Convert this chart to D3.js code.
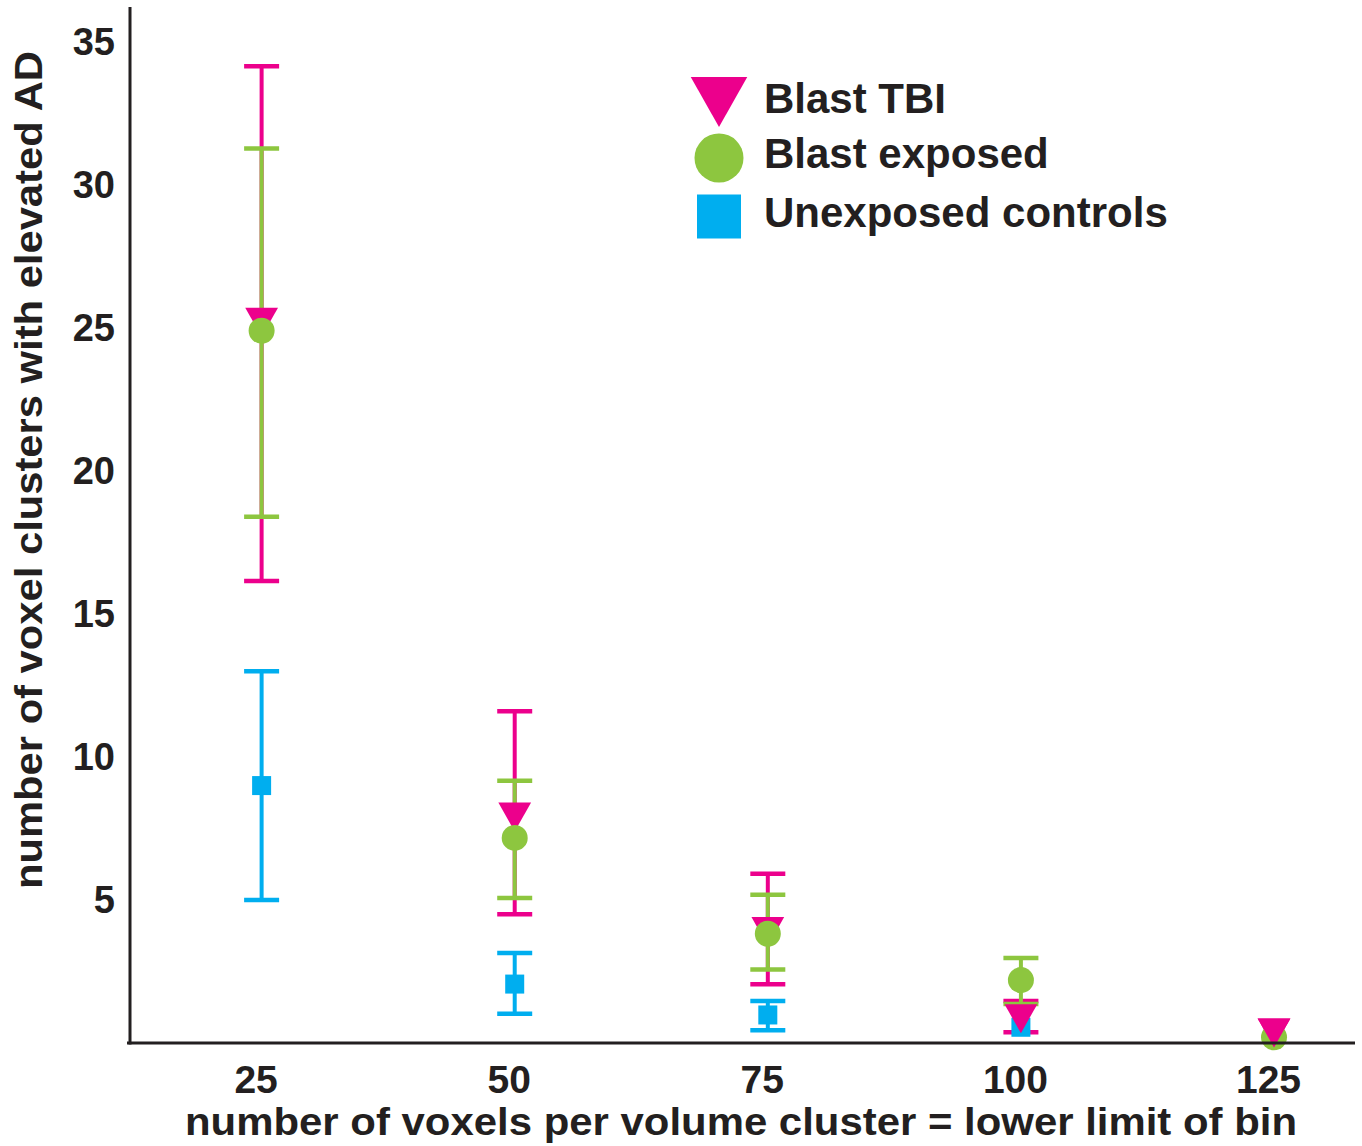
<!DOCTYPE html>
<html>
<head>
<meta charset="utf-8">
<script src="https://cdn.jsdelivr.net/npm/d3@7"></script>
<style>
  body { margin: 0; background: #fff; }
  text { font-family: "Liberation Sans", Arial, sans-serif; font-weight: bold; fill: #231f20; }
</style>
</head>
<body>
<script>
// bins on the x axis (lower limit of bin)
var bins = [25, 50, 75, 100, 125];

// Blast TBI
var tbiMean = [25.2, 7.9, 3.9, 0.85, 0.35];
var tbiLow  = [16.15, 4.5, 2.05, 0.38, null];
var tbiHigh = [34.15, 11.6, 5.92, 1.47, null];

// Blast exposed
var expMean = [24.9, 7.17, 3.82, 2.2, 0.2];
var expLow  = [18.4, 5.07, 2.57, 1.36, null];
var expHigh = [31.27, 9.17, 5.18, 2.97, null];

// Unexposed controls
var ctlMean = [9.0, 2.06, 0.98, 0.55, null];
var ctlLow  = [5.0, 1.02, 0.45, null, null];
var ctlHigh = [13.0, 3.15, 1.47, null, null];

var yTicks = [5, 10, 15, 20, 25, 30, 35];

var w = 1362;
var h = 1146;

var svg = d3.select("body")
    .append("svg")
    .attr("width", w)
    .attr("height", h);

// scales
var xScale = d3.scaleLinear()
    .domain([12, 133])
    .range([130, 1355]);

var yScale = d3.scaleLinear()
    .domain([0, 36.22])
    .range([1043, 7]);

// series setup
var series = [
  {name: "Unexposed controls", color: "#00aeef", shape: "square", mean: ctlMean, low: ctlLow, high: ctlHigh},
  {name: "Blast TBI", color: "#ec008c", shape: "triangle", mean: tbiMean, low: tbiLow, high: tbiHigh},
  {name: "Blast exposed", color: "#8dc63f", shape: "circle", mean: expMean, low: expLow, high: expHigh}
];

function rows(s) {
  return bins.map(function(b, i) {
    return {x: b, m: s.mean[i], lo: s.low[i], hi: s.high[i]};
  });
}

// marker drawing helper
function marker(g, shape, cx, cy, size, color) {
  if (shape == "circle") {
    g.append("circle").attr("cx", cx).attr("cy", cy).attr("r", size / 2).attr("fill", color);
  } else if (shape == "square") {
    g.append("rect").attr("x", cx - size / 2).attr("y", cy - size / 2)
      .attr("width", size).attr("height", size).attr("fill", color);
  } else {
    var tw = size * 1.13, th = size;
    g.append("path")
      .attr("d", "M" + (cx - tw / 2) + "," + (cy - th / 2) + "L" + (cx + tw / 2) + "," + (cy - th / 2) +
                 "L" + cx + "," + (cy + th / 2) + "Z")
      .attr("fill", color);
  }
}

// error bars
var capW = 35;
series.forEach(function(s) {
  var g = svg.append("g");
  rows(s).filter(function(d) { return d.lo != null && d.hi != null; }).forEach(function(d) {
    var x = xScale(d.x);
    g.append("line").attr("x1", x).attr("x2", x)
      .attr("y1", yScale(d.lo)).attr("y2", yScale(d.hi))
      .attr("stroke", s.color).attr("stroke-width", 4);
    [d.lo, d.hi].forEach(function(v) {
      g.append("line").attr("x1", x - capW / 2).attr("x2", x + capW / 2)
        .attr("y1", yScale(v)).attr("y2", yScale(v))
        .attr("stroke", s.color).attr("stroke-width", 4.5);
    });
  });
});

// markers (at the last bin the triangle sits on top of the circle)
var markerSize = {square: 19, triangle: 29, circle: 26};
series.forEach(function(s) {
  var g = svg.append("g");
  rows(s).filter(function(d) { return d.m != null; }).forEach(function(d) {
    marker(g, s.shape, xScale(d.x), yScale(d.m), markerSize[s.shape], s.color);
  });
});
marker(svg.append("g"), "triangle", xScale(bins[4]), yScale(tbiMean[4]), markerSize.triangle, "#ec008c");

// axes
var xAxis = d3.axisBottom(xScale)
    .tickValues(bins)
    .tickSize(0)
    .tickPadding(22);

var yAxis = d3.axisLeft(yScale)
    .tickValues(yTicks)
    .tickSize(0)
    .tickPadding(15);

var gX = svg.append("g")
    .attr("transform", "translate(0,1043)")
    .call(xAxis);
gX.select(".domain").attr("stroke", "#231f20").attr("stroke-width", 3)
    .attr("d", "M127,0H1355");
gX.selectAll("text").attr("font-size", 39).attr("dx", -6)
    .style("font-family", "'Liberation Sans', Arial, sans-serif").style("font-weight", "bold").attr("fill", "#231f20");

var gY = svg.append("g")
    .attr("transform", "translate(130,0)")
    .call(yAxis);
gY.select(".domain").attr("stroke", "#231f20").attr("stroke-width", 3)
    .attr("d", "M0,7V1044.5");
gY.selectAll("text").attr("font-size", 38)
    .style("font-family", "'Liberation Sans', Arial, sans-serif").style("font-weight", "bold").attr("fill", "#231f20");

// axis titles
svg.append("text")
    .attr("x", 741)
    .attr("y", 1135)
    .attr("text-anchor", "middle")
    .attr("font-size", 39)
    .attr("textLength", 1112)
    .attr("lengthAdjust", "spacingAndGlyphs")
    .text("number of voxels per volume cluster = lower limit of bin");

svg.append("text")
    .attr("transform", "translate(42,470) rotate(-90)")
    .attr("text-anchor", "middle")
    .attr("font-size", 39)
    .attr("textLength", 838)
    .attr("lengthAdjust", "spacingAndGlyphs")
    .text("number of voxel clusters with elevated AD");

// legend
var legendItems = [
  {name: "Blast TBI", color: "#ec008c", shape: "triangle", size: 50, cy: 102, base: 113},
  {name: "Blast exposed", color: "#8dc63f", shape: "circle", size: 49, cy: 158, base: 168},
  {name: "Unexposed controls", color: "#00aeef", shape: "square", size: 44, cy: 216.5, base: 227}
];
var legend = svg.append("g");
legendItems.forEach(function(d) {
  marker(legend, d.shape, 719, d.cy, d.size, d.color);
  legend.append("text")
    .attr("x", 764)
    .attr("y", d.base)
    .attr("font-size", 42)
    .text(d.name);
});
</script>
</body>
</html>
